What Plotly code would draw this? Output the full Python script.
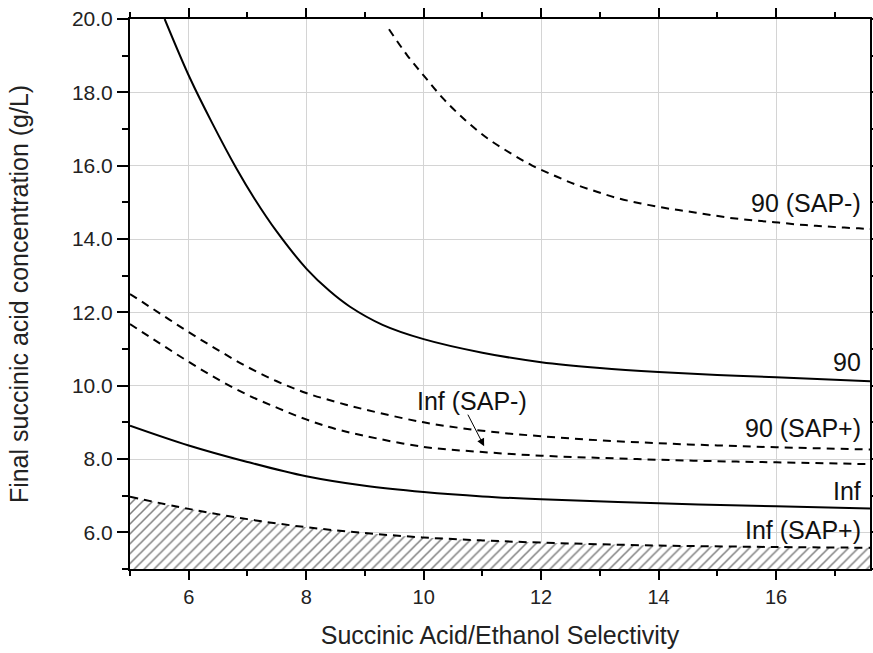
import plotly.graph_objects as go

# ---- data ----
x_90 = [5.59, 6.02, 6.40, 6.81, 7.12, 7.50, 8.01, 8.40, 8.74, 9.30, 10.0, 11.0, 12.0, 13.0, 14.0, 15.0, 16.0, 17.6]
y_90 = [20.0, 18.39, 17.16, 15.93, 15.10, 14.20, 13.18, 12.58, 12.16, 11.66, 11.27, 10.90, 10.64, 10.48, 10.37, 10.29, 10.23, 10.12]

x_inf = [5.0, 6.0, 7.0, 8.0, 9.0, 10.0, 11.0, 12.0, 14.0, 16.0, 17.6]
y_inf = [8.91, 8.37, 7.92, 7.53, 7.27, 7.10, 6.98, 6.90, 6.79, 6.71, 6.65]

x_90_sapm = [9.41, 9.72, 10.02, 10.35, 10.71, 11.09, 11.47, 11.84, 12.21, 12.58, 12.95, 13.31,
             13.70, 14.09, 14.46, 14.83, 15.20, 15.59, 15.97, 16.34, 16.68, 17.06, 17.41, 17.6]
y_90_sapm = [19.72, 19.01, 18.42, 17.80, 17.24, 16.74, 16.35, 16.01, 15.74, 15.49, 15.29, 15.11,
             14.97, 14.85, 14.76, 14.67, 14.58, 14.51, 14.46, 14.40, 14.36, 14.32, 14.29, 14.27]

x_90_sapp = [5.0, 5.5, 6.0, 6.5, 7.0, 7.5, 8.0, 8.5, 9.0, 10.0, 11.0, 12.0, 13.0, 14.0, 15.0, 16.0, 17.6]
y_90_sapp = [12.50, 11.98, 11.46, 10.97, 10.51, 10.12, 9.80, 9.56, 9.35, 9.00, 8.77, 8.62, 8.51, 8.43, 8.37, 8.32, 8.26]

x_inf_sapm = [5.0, 5.5, 6.0, 6.5, 7.0, 7.5, 8.0, 8.5, 9.0, 10.0, 11.0, 12.0, 13.0, 14.0, 15.0, 16.0, 17.6]
y_inf_sapm = [11.68, 11.16, 10.65, 10.17, 9.75, 9.40, 9.08, 8.82, 8.63, 8.33, 8.19, 8.09, 8.03, 7.98, 7.94, 7.91, 7.86]

x_inf_sapp = [5.0, 6.0, 7.0, 8.0, 9.0, 10.0, 11.0, 12.0, 14.0, 16.0, 17.6]
y_inf_sapp = [6.97, 6.64, 6.36, 6.14, 5.98, 5.86, 5.78, 5.72, 5.64, 5.60, 5.58]

label_x = 17.48
labels = ["90 (SAP-)", "90", "90 (SAP+)", "Inf", "Inf (SAP+)"]
label_y = [14.99, 10.64, 8.85, 7.13, 6.07]

FONT = "Liberation Sans, Arial, sans-serif"
DASH = "8px,6px"

fig = go.Figure()

# hatched infeasible region below Inf (SAP+)
fig.add_trace(go.Scatter(
    x=x_inf_sapp, y=y_inf_sapp, mode="lines", line_shape="spline",
    line=dict(color="black", width=2, dash=DASH, smoothing=1.0),
    fill="tozeroy", fillcolor="rgba(0,0,0,0)",
    fillpattern=dict(shape="/", fgcolor="#000000", bgcolor="white", size=7, solidity=0.22),
    showlegend=False, hoverinfo="skip"))

for xs, ys, dash in [(x_90, y_90, "solid"), (x_inf, y_inf, "solid"),
                     (x_90_sapm, y_90_sapm, DASH), (x_90_sapp, y_90_sapp, DASH),
                     (x_inf_sapm, y_inf_sapm, DASH)]:
    fig.add_trace(go.Scatter(x=xs, y=ys, mode="lines", line_shape="spline",
                             line=dict(color="black", width=2, dash=dash, smoothing=1.0),
                             showlegend=False))

for t, yy in zip(labels, label_y):
    fig.add_annotation(x=label_x, y=yy, text=t, showarrow=False, xanchor="right",
                       yanchor="middle", font=dict(family=FONT, size=25, color="#111"))

# Inf (SAP-) label with arrow
fig.add_annotation(x=10.82, y=9.58, text="Inf (SAP-)", showarrow=False,
                   font=dict(family=FONT, size=25, color="#111"))
fig.add_annotation(x=11.03, y=8.35, ax=10.74, ay=9.25, axref="x", ayref="y",
                   text="", showarrow=True, arrowhead=2, arrowsize=1.5,
                   arrowwidth=1, arrowcolor="black")

axis_common = dict(
    showline=True, linecolor="black", linewidth=2, mirror="ticks",
    ticks="outside", tickcolor="black", tickwidth=2,
    showgrid=True, gridcolor="#d4d4d4", gridwidth=1, zeroline=False,
)

fig.update_xaxes(**axis_common, range=[5, 17.6], tick0=0, dtick=2, ticklen=9,
                 tickfont=dict(family=FONT, size=20, color="#222"),
                 minor=dict(dtick=1, tick0=0, ticks="outside", ticklen=5, tickcolor="black", tickwidth=2, showgrid=False),
                 title=dict(text="Succinic Acid/Ethanol Selectivity", standoff=19,
                            font=dict(family=FONT, size=25, color="#222")))
fig.update_yaxes(**axis_common, range=[5, 20], tick0=0, dtick=2, ticklen=11, tickformat=".1f",
                 tickfont=dict(family=FONT, size=21, color="#222"),
                 minor=dict(dtick=1, tick0=0, ticks="outside", ticklen=6, tickcolor="black", tickwidth=2, showgrid=False),
                 title=dict(text="Final succinic acid concentration (g/L)", standoff=36,
                            font=dict(family=FONT, size=25, color="#222")))

fig.update_layout(
    width=873, height=653,
    margin=dict(l=130, r=3, t=19, b=84, autoexpand=False),
    plot_bgcolor="white", paper_bgcolor="white",
    font=dict(family=FONT),
)

fig.write_html("out.html", config={"displayModeBar": False},
               post_script="document.body.style.margin='0';document.body.style.padding='0';")
